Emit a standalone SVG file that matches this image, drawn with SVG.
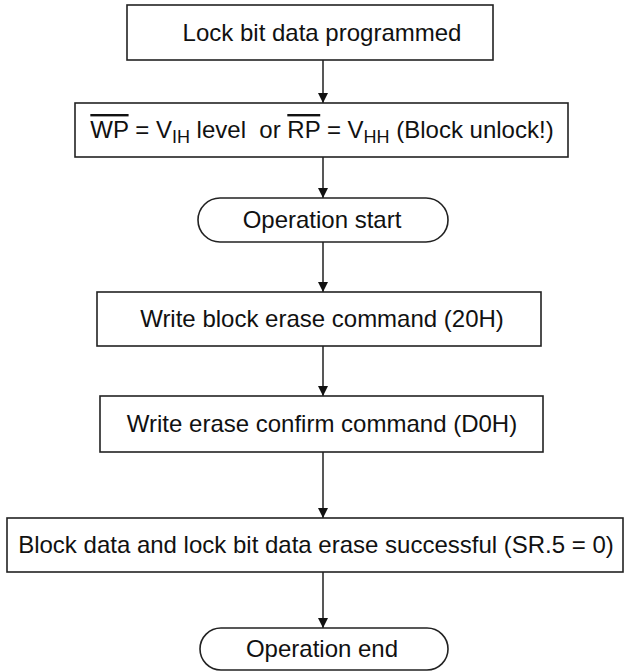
<svg xmlns="http://www.w3.org/2000/svg" width="629" height="672" viewBox="0 0 629 672">
<defs>
<marker id="arr" markerWidth="10" markerHeight="14" refX="10" refY="5" orient="auto" markerUnits="userSpaceOnUse" viewBox="0 0 10 10">
<path d="M0,0 L10,5 L0,10 Z" fill="#111"/>
</marker>
<style>
.box{fill:#fff;stroke:#222;stroke-width:1.6}
.t{font-family:"Liberation Sans",Arial,sans-serif;font-size:24px;fill:#111;text-anchor:middle}
.c{stroke:#111;stroke-width:1.4;fill:none;marker-end:url(#arr)}
.ol{text-decoration:overline}
</style>
</defs>
<rect width="629" height="672" fill="#fff"/>
<g id="connectors">
<line class="c" x1="323" y1="60" x2="323" y2="103"/>
<line class="c" x1="323" y1="157" x2="323" y2="198"/>
<line class="c" x1="323" y1="242" x2="323" y2="292"/>
<line class="c" x1="323" y1="346" x2="323" y2="396"/>
<line class="c" x1="323" y1="452" x2="323" y2="518"/>
<line class="c" x1="323" y1="572" x2="323" y2="628"/>
</g>
<g id="n1">
<rect class="box" x="127" y="5" width="366" height="55"/>
<text class="t" x="322" y="41">Lock bit data programmed</text>
</g>
<g id="n2">
<rect class="box" x="75" y="103" width="493" height="54"/>
<text class="t" x="322" y="138"><tspan class="ol">WP</tspan> = V<tspan font-size="18" dy="5">IH</tspan><tspan dy="-5"> level&#160; or </tspan><tspan class="ol">RP</tspan> = V<tspan font-size="18" dy="5">HH</tspan><tspan dy="-5"> (Block unlock!)</tspan></text>
</g>
<g id="n3">
<rect class="box" x="198" y="198" width="250" height="44" rx="22" ry="22"/>
<text class="t" x="322" y="228">Operation start</text>
</g>
<g id="n4">
<rect class="box" x="97" y="292" width="444" height="54"/>
<text class="t" x="322" y="327">Write block erase command (20H)</text>
</g>
<g id="n5">
<rect class="box" x="100" y="396" width="443" height="56"/>
<text class="t" x="322" y="432">Write erase confirm command (D0H)</text>
</g>
<g id="n6">
<rect class="box" x="7" y="518" width="616" height="54"/>
<text class="t" x="316" y="553">Block data and lock bit data erase successful (SR.5 = 0)</text>
</g>
<g id="n7">
<rect class="box" x="200" y="628" width="248" height="42" rx="21" ry="21"/>
<text class="t" x="322" y="657">Operation end</text>
</g>
</svg>
